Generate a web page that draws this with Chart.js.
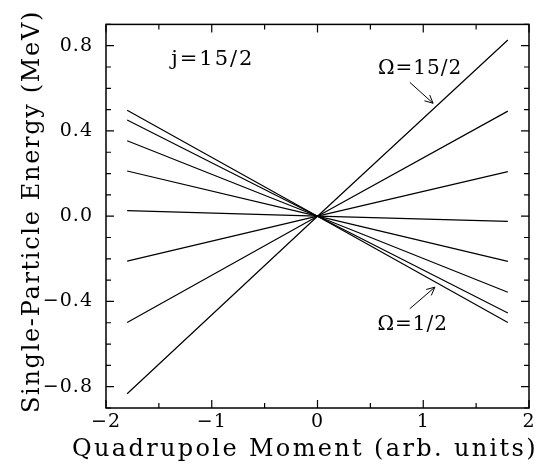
<!DOCTYPE html>
<html>
<head>
<meta charset="utf-8">
<script src="https://cdn.jsdelivr.net/npm/chart.js@4.4.1/dist/chart.umd.min.js"></script>
<style>
  body { margin: 0; background: #fff; }
  #wrap { width: 549px; height: 465px; }
</style>
</head>
<body>
<div id="wrap"><canvas id="levelChart" width="549" height="465"></canvas></div>
<script>
// Nilsson-type levels for j=15/2, one line per Omega
const omegaLabels = ['1/2', '3/2', '5/2', '7/2', '9/2', '11/2', '13/2', '15/2'];
const xPoints = [-1.8, 0, 1.8];
const leftEnergy = [0.497, 0.451, 0.354, 0.212, 0.026, -0.211, -0.499, -0.833];
const rightEnergy = [-0.499, -0.454, -0.357, -0.212, -0.024, 0.209, 0.493, 0.827];

const xTitle = 'Quadrupole Moment (arb. units)';
const yTitle = 'Single-Particle Energy (MeV)';

// text labels and arrows, in data units
const noteTexts = ['j=15/2', '\u03A9=15/2', '\u03A9=1/2'];
const notePos = [[-0.99, 0.735], [0.97, 0.69], [0.90, -0.51]];
const arrowFrom = [[0.873, 0.628], [0.873, -0.434]];
const arrowTo = [[1.093, 0.530], [1.110, -0.333]];

const FONT = '"DejaVu Serif", serif';

function minus(s) { return s.replace('-', '\u2212'); }

let datasets = omegaLabels.map((om, i) => ({
    label: '\u03A9=' + om,
    data: [
        { x: xPoints[0], y: leftEnergy[i] },
        { x: xPoints[1], y: 0 },
        { x: xPoints[2], y: rightEnergy[i] }
    ],
    showLine: true,
    borderColor: '#000',
    borderWidth: 1.2,
    pointRadius: 0,
    fill: false
}));

function spacedText(ctx, text, x, y, width) {
    ctx.letterSpacing = '0px';
    let w = ctx.measureText(text).width;
    ctx.letterSpacing = ((width - w) / text.length) + 'px';
    ctx.fillText(text, x, y);
}

const framePlugin = {
    id: 'frame',
    beforeDraw(chart) {
        chart.ctx.letterSpacing = '1px';
    },
    afterDraw(chart) {
        const ctx = chart.ctx;
        const a = chart.chartArea;
        const xs = chart.scales.x, ys = chart.scales.y;
        ctx.save();
        ctx.strokeStyle = '#000';
        ctx.lineWidth = 1.5;
        ctx.strokeRect(a.left, a.top, a.right - a.left, a.bottom - a.top);

        // inside tick marks on all four sides
        ctx.lineWidth = 1.2;
        ctx.beginPath();
        xs.ticks.forEach(t => {
            let px = xs.getPixelForValue(t.value);
            let len = Math.abs(t.value - Math.round(t.value)) < 1e-6 ? 8 : 5;
            ctx.moveTo(px, a.bottom); ctx.lineTo(px, a.bottom - len);
            ctx.moveTo(px, a.top); ctx.lineTo(px, a.top + len);
        });
        ys.ticks.forEach(t => {
            let py = ys.getPixelForValue(t.value);
            let q = t.value / 0.4;
            let len = Math.abs(q - Math.round(q)) < 1e-6 ? 8 : 5;
            ctx.moveTo(a.left, py); ctx.lineTo(a.left + len, py);
            ctx.moveTo(a.right, py); ctx.lineTo(a.right - len, py);
        });
        ctx.stroke();

        // arrows
        ctx.lineWidth = 1;
        arrowFrom.forEach((f, i) => {
            let x0 = xs.getPixelForValue(f[0]), y0 = ys.getPixelForValue(f[1]);
            let x1 = xs.getPixelForValue(arrowTo[i][0]), y1 = ys.getPixelForValue(arrowTo[i][1]);
            let ang = Math.atan2(y1 - y0, x1 - x0);
            ctx.beginPath();
            ctx.moveTo(x0, y0); ctx.lineTo(x1, y1);
            ctx.moveTo(x1 - 9 * Math.cos(ang - 0.45), y1 - 9 * Math.sin(ang - 0.45));
            ctx.lineTo(x1, y1);
            ctx.lineTo(x1 - 9 * Math.cos(ang + 0.45), y1 - 9 * Math.sin(ang + 0.45));
            ctx.stroke();
        });

        // notes
        ctx.fillStyle = '#000';
        ctx.textAlign = 'center';
        ctx.textBaseline = 'middle';
        noteTexts.forEach((txt, i) => {
            ctx.font = (i === 0 ? '21px ' : '20px ') + FONT;
            ctx.letterSpacing = (i === 0 ? '2px' : '1px');
            ctx.fillText(txt, xs.getPixelForValue(notePos[i][0]), ys.getPixelForValue(notePos[i][1]));
        });

        // axis titles
        ctx.font = '24px ' + FONT;
        ctx.textBaseline = 'alphabetic';
        spacedText(ctx, xTitle, 305, 456, 466);
        ctx.translate(39, 211.5);
        ctx.rotate(-Math.PI / 2);
        spacedText(ctx, yTitle, 0, 0, 403);
        ctx.restore();
    }
};

const ctx = document.getElementById('levelChart').getContext('2d');
const levelChart = new Chart(ctx, {
    type: 'scatter',
    data: { datasets: datasets },
    options: {
        responsive: false,
        animation: false,
        layout: { padding: { top: 10, right: 20, left: 0, bottom: 0 } },
        plugins: {
            legend: { display: false },
            tooltip: { enabled: false }
        },
        scales: {
            x: {
                type: 'linear',
                min: -2,
                max: 2,
                grid: { display: false, drawTicks: false },
                border: { display: false },
                afterFit: (scale) => { scale.height = 57; },
                ticks: {
                    stepSize: 0.5,
                    autoSkip: false,
                    maxRotation: 0,
                    padding: 3,
                    color: '#000',
                    font: { family: FONT, size: 19 },
                    callback: (v) => Math.abs(v - Math.round(v)) < 1e-6 ? minus(String(Math.round(v))) : ''
                }
            },
            y: {
                type: 'linear',
                min: -0.9,
                max: 0.9,
                grid: { display: false, drawTicks: false },
                border: { display: false },
                afterFit: (scale) => { scale.width = 106; },
                ticks: {
                    stepSize: 0.1,
                    autoSkip: false,
                    padding: 13,
                    color: '#000',
                    font: { family: FONT, size: 19 },
                    callback: (v) => {
                        let q = v / 0.4;
                        if (Math.abs(q - Math.round(q)) > 1e-6) return '';
                        if (Math.abs(v) < 1e-9) return '0.0';
                        return minus(v.toFixed(1));
                    }
                }
            }
        }
    },
    plugins: [framePlugin]
});
</script>
</body>
</html>
